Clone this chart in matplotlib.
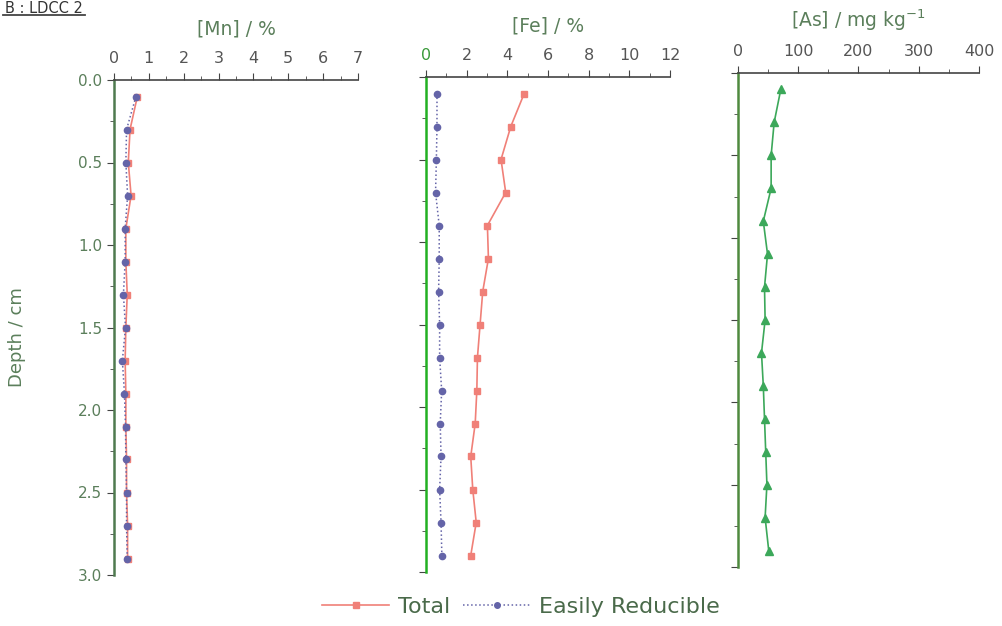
import numpy as np
import matplotlib.pyplot as plt
from matplotlib.lines import Line2D
from matplotlib.ticker import MultipleLocator

# Core LDCC 2 depth profiles
depth = [0.1, 0.3, 0.5, 0.7, 0.9, 1.1, 1.3, 1.5, 1.7, 1.9, 2.1, 2.3, 2.5, 2.7, 2.9]

mn_total = [0.67, 0.46, 0.41, 0.49, 0.34, 0.34, 0.38, 0.34, 0.32, 0.34, 0.34, 0.36, 0.36, 0.39, 0.39]
mn_reducible = [0.63, 0.36, 0.34, 0.39, 0.32, 0.32, 0.27, 0.33, 0.24, 0.30, 0.33, 0.34, 0.36, 0.36, 0.38]

fe_total = [4.83, 4.17, 3.69, 3.92, 3.02, 3.07, 2.79, 2.66, 2.53, 2.50, 2.42, 2.20, 2.30, 2.47, 2.20]
fe_reducible = [0.54, 0.54, 0.51, 0.47, 0.65, 0.65, 0.62, 0.67, 0.67, 0.77, 0.70, 0.74, 0.67, 0.74, 0.78]

as_total = [71, 60, 55, 55, 42, 49, 44, 45, 39, 42, 44, 46, 48, 45, 51]

mn_ticks = [0, 1, 2, 3, 4, 5, 6, 7]
fe_ticks = [0, 2, 4, 6, 8, 10, 12]
as_ticks = [0, 100, 200, 300, 400]
depth_ticks = [0.0, 0.5, 1.0, 1.5, 2.0, 2.5, 3.0]

RED = '#f08078'
BLUE = '#6464a8'
GREEN = '#3ca85a'
GREY = '#555555'
LABEL_GREEN = '#5b7f5b'

plt.rcParams['font.family'] = 'DejaVu Sans'

fig = plt.figure(figsize=(10.03, 6.26), dpi=100)

W, H = 1003.0, 626.0


def make_axes(x0, x1, y0, y1):
    return fig.add_axes([x0 / W, 1 - y1 / H, (x1 - x0) / W, (y1 - y0) / H])


def style(ax, xmax, xticks, minor, spine_color, title, label_y=True):
    ax.set_xlim(0, xmax)
    ax.set_ylim(3.0, 0.0)
    ax.xaxis.tick_top()
    ax.xaxis.set_label_position('top')
    ax.set_xticks(xticks)
    ax.xaxis.set_minor_locator(MultipleLocator(minor))
    ax.yaxis.set_major_locator(MultipleLocator(0.5))
    ax.yaxis.set_minor_locator(MultipleLocator(0.25))
    for side in ('right', 'bottom'):
        ax.spines[side].set_visible(False)
    ax.spines['top'].set_color('#444444')
    ax.spines['top'].set_linewidth(1.2)
    ax.spines['left'].set_color(spine_color)
    ax.spines['left'].set_linewidth(1.8)
    ax.tick_params(axis='x', which='both', direction='out', colors='#444444',
                   labelcolor=GREY, labelsize=11.5, pad=5)
    ax.tick_params(axis='x', which='major', length=5)
    ax.tick_params(axis='x', which='minor', length=3)
    ax.tick_params(axis='y', which='major', direction='out', length=5,
                   colors='#444444', labelcolor=LABEL_GREEN, labelsize=11)
    ax.tick_params(axis='y', which='minor', direction='out', length=3, colors='#444444')
    if not label_y:
        ax.set_yticklabels([])
    else:
        ax.set_yticks(depth_ticks)
        ax.set_yticklabels([f'{d:.1f}' for d in depth_ticks])
    ax.set_xlabel(title, fontsize=13.5, color=LABEL_GREEN, labelpad=12)
    ax.patch.set_alpha(0)


# Manganese
ax1 = make_axes(114, 358, 80, 575)
ax1.plot(mn_total, depth, color=RED, lw=1.2, marker='s', ms=5, mfc=RED, mec=RED)
ax1.plot(mn_reducible, depth, color=BLUE, lw=1.1, ls=':', marker='o', ms=4.5, mfc=BLUE, mec=BLUE)
style(ax1, 7, mn_ticks, 0.5, '#4f7a4f', '[Mn] / %')
ax1.set_ylabel('Depth / cm', fontsize=13, color=LABEL_GREEN)
ax1.yaxis.set_label_coords(-0.36, 0.48)

# Iron
ax2 = make_axes(426, 670, 77, 572)
ax2.plot(fe_total, depth, color=RED, lw=1.2, marker='s', ms=5, mfc=RED, mec=RED)
ax2.plot(fe_reducible, depth, color=BLUE, lw=1.1, ls=':', marker='o', ms=4.5, mfc=BLUE, mec=BLUE)
style(ax2, 12, fe_ticks, 1, '#22b022', '[Fe] / %', label_y=False)
ax2.get_xticklabels()[0].set_color('#3a9a3a')

# Arsenic
ax3 = make_axes(738, 979, 73, 567)
ax3.plot(as_total, depth, color=GREEN, lw=1.2, marker='^', ms=6, mfc=GREEN, mec=GREEN)
style(ax3, 400, as_ticks, 50, '#4f8a3f', '[As] / mg kg$^{-1}$', label_y=False)

# Legend along the bottom
handles = [
    Line2D([], [], color=RED, lw=1.2, marker='s', ms=5, mfc=RED, mec=RED),
    Line2D([], [], color=BLUE, lw=1.1, ls=':', marker='o', ms=4, mfc=BLUE, mec=BLUE),
]
leg = fig.legend(handles, ['Total', 'Easily Reducible'], loc='center',
                 bbox_to_anchor=(521 / W, 1 - 607 / H), ncol=2, frameon=False,
                 fontsize=16, handlelength=3.0, columnspacing=0.6, handletextpad=0.4)
for t in leg.get_texts():
    t.set_color('#4a6a4a')

# Panel heading at the top-left, underlined
head = fig.text(5 / W, 1 - 1 / H, 'B : LDCC 2', fontsize=10.5, color='#333333',
                ha='left', va='top')
fig.canvas.draw()
bb = head.get_window_extent()
fig.add_artist(Line2D([(bb.x0 - 2) / W, (bb.x1 + 2) / W], [1 - 15 / H, 1 - 15 / H],
                      color='#444444', lw=1.3, transform=fig.transFigure))

fig.savefig('out.png', dpi=100)
